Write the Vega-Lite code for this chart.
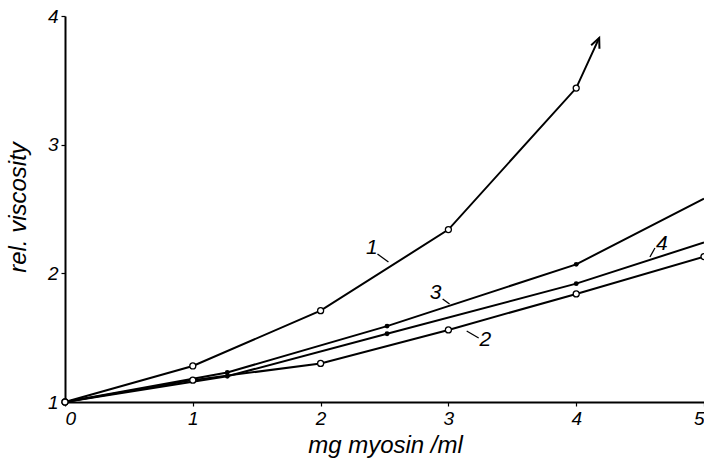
{
  "$schema": "https://vega.github.io/schema/vega-lite/v6.json",
  "width": 639,
  "height": 386,
  "autosize": {"type": "none"},
  "padding": {"left": 65, "top": 16, "right": 0, "bottom": 57},
  "background": "white",
  "config": {
    "view": {"stroke": null},
    "font": "Liberation Sans",
    "axis": {
      "grid": false,
      "domainColor": "black",
      "domainWidth": 2,
      "tickColor": "black",
      "tickWidth": 1.2,
      "tickSize": 4,
      "labelColor": "black",
      "labelFont": "Liberation Sans",
      "labelFontSize": 19,
      "labelFontStyle": "italic",
      "titleColor": "black",
      "titleFont": "Liberation Sans",
      "titleFontSize": 24,
      "titleFontStyle": "italic",
      "titleFontWeight": "normal"
    }
  },
  "datasets": {
    "curves": [
      {"series": "1", "x": 0, "y": 1, "marker": "open"},
      {"series": "1", "x": 1, "y": 1.28, "marker": "open"},
      {"series": "1", "x": 2, "y": 1.71, "marker": "open"},
      {"series": "1", "x": 3, "y": 2.34, "marker": "open"},
      {"series": "1", "x": 4, "y": 3.44, "marker": "open"},
      {"series": "1", "x": 4.18, "y": 3.83, "marker": "none"},
      {"series": "2", "x": 0, "y": 1, "marker": "open"},
      {"series": "2", "x": 1, "y": 1.17, "marker": "open"},
      {"series": "2", "x": 2, "y": 1.3, "marker": "open"},
      {"series": "2", "x": 3, "y": 1.56, "marker": "open"},
      {"series": "2", "x": 4, "y": 1.84, "marker": "open"},
      {"series": "2", "x": 5, "y": 2.13, "marker": "open"},
      {"series": "3", "x": 0, "y": 1, "marker": "none"},
      {"series": "3", "x": 1.27, "y": 1.23, "marker": "filled"},
      {"series": "3", "x": 2.52, "y": 1.59, "marker": "filled"},
      {"series": "3", "x": 4, "y": 2.07, "marker": "filled"},
      {"series": "3", "x": 5, "y": 2.58, "marker": "none"},
      {"series": "4", "x": 0, "y": 1, "marker": "none"},
      {"series": "4", "x": 1.27, "y": 1.2, "marker": "filled"},
      {"series": "4", "x": 2.52, "y": 1.53, "marker": "filled"},
      {"series": "4", "x": 4, "y": 1.92, "marker": "filled"},
      {"series": "4", "x": 5, "y": 2.24, "marker": "none"}
    ],
    "labels": [
      {"text": "1", "x": 2.4, "y": 2.2},
      {"text": "2", "x": 3.29, "y": 1.48},
      {"text": "3", "x": 2.9, "y": 1.85},
      {"text": "4", "x": 4.67, "y": 2.23}
    ],
    "leaders": [
      {"x": 2.445, "y": 2.15, "x2": 2.531, "y2": 2.088},
      {"x": 3.143, "y": 1.552, "x2": 3.237, "y2": 1.497},
      {"x": 2.955, "y": 1.8, "x2": 3.009, "y2": 1.761},
      {"x": 4.577, "y": 2.127, "x2": 4.616, "y2": 2.197}
    ],
    "arrow": [
      {"x": 4.18, "y": 3.83}
    ]
  },
  "encoding": {
    "x": {
      "field": "x",
      "type": "quantitative",
      "scale": {"domain": [0, 5], "nice": false, "zero": false},
      "axis": {
        "values": [0, 1, 2, 3, 4, 5],
        "labelPadding": 3,
        "title": "mg myosin /ml",
        "titleX": 320,
        "titleY": 50,
        "titleBaseline": "alphabetic",
        "titleAlign": "center"
      }
    },
    "y": {
      "field": "y",
      "type": "quantitative",
      "scale": {"domain": [1, 4], "nice": false, "zero": false},
      "axis": {
        "values": [1, 2, 3, 4],
        "labelPadding": 3,
        "title": "rel. viscosity",
        "titleAngle": -90,
        "titleX": -40,
        "titleY": 191,
        "titleAlign": "center",
        "titleBaseline": "alphabetic"
      }
    }
  },
  "layer": [
    {
      "data": {"name": "curves"},
      "mark": {"type": "line", "color": "black", "strokeWidth": 2},
      "encoding": {"detail": {"field": "series", "type": "nominal"}}
    },
    {
      "data": {"name": "curves"},
      "transform": [{"filter": "datum.marker === 'open'"}],
      "mark": {"type": "point", "shape": "circle", "filled": true, "fill": "white", "stroke": "black", "strokeWidth": 1.3, "size": 36, "opacity": 1}
    },
    {
      "data": {"name": "curves"},
      "transform": [{"filter": "datum.marker === 'filled'"}],
      "mark": {"type": "point", "shape": "circle", "filled": true, "fill": "black", "size": 24, "opacity": 1}
    },
    {
      "data": {"name": "leaders"},
      "mark": {"type": "rule", "color": "black", "strokeWidth": 1.3},
      "encoding": {"x2": {"field": "x2"}, "y2": {"field": "y2"}}
    },
    {
      "data": {"name": "labels"},
      "mark": {"type": "text", "font": "Liberation Sans", "fontSize": 21, "fontStyle": "italic", "color": "black", "align": "center", "baseline": "middle"},
      "encoding": {"text": {"field": "text"}}
    },
    {
      "data": {"name": "arrow"},
      "mark": {"type": "point", "shape": "M-0.45,1L0,0L0.45,1", "filled": false, "stroke": "black", "strokeWidth": 2, "size": 400, "angle": 23, "opacity": 1}
    }
  ]
}
